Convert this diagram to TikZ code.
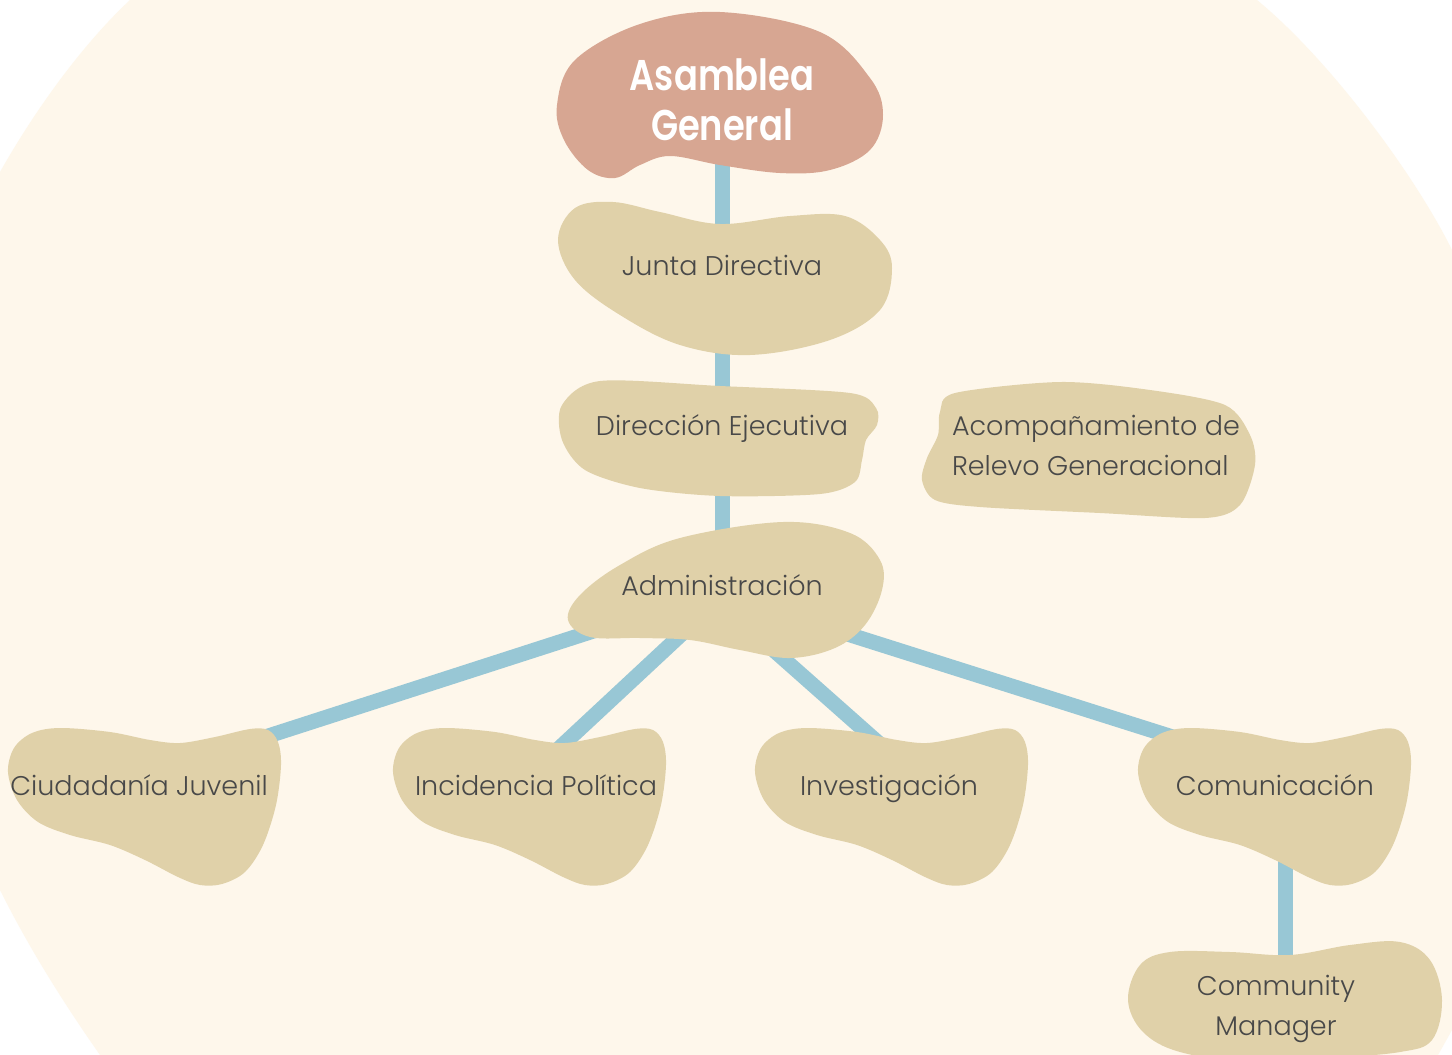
\documentclass[tikz,border=0pt]{standalone}
\usepackage{fontspec}
\setmainfont{Poppins}[UprightFont=* Light]
\newfontfamily\titlefont{Poppins}[UprightFont=* SemiBold]
\pgfdeclarelayer{bglayer}
\pgfdeclarelayer{linelayer}
\pgfdeclarelayer{blobs}
\pgfsetlayers{bglayer,linelayer,blobs,main}
\definecolor{cream}{HTML}{FEF7EB}
\definecolor{blobc}{HTML}{E0D1A9}
\definecolor{salmon}{HTML}{D7A692}
\definecolor{linkc}{HTML}{98C7D5}
\definecolor{ink}{HTML}{484848}
\newcommand\childblob{\fill[blobc] plot[smooth cycle,tension=0.55] coordinates {(60,728) (110,732) (150,740) (180,743) (215,737) (250,729) (268,730) (278,742) (281,765) (276,805) (263,845) (245,872) (222,884) (200,885) (178,877) (145,860) (110,845) (70,835) (38,822) (17,800) (8,772) (14,748) (32,733)};}
\begin{document}
\begin{tikzpicture}[x=1pt,y=-1pt,
  lbl/.style={text=ink,font=\fontsize{27}{40}\selectfont,align=center,inner sep=0pt,text height=19pt,text depth=0pt},
  conn/.style={draw=linkc,line width=15pt}]
\useasboundingbox (0,0) rectangle (1452,1055);
\begin{pgfonlayer}{bglayer}
\fill[white] (0,0) rectangle (1452,1055);
\begin{scope}
\clip (0,0) rectangle (1452,1055);
\fill[cream] (130,0) .. controls (85,42) and (38,105) .. (0,172) -- (-50,300) -- (-50,800) -- (0,890) .. controls (30,950) and (65,1005) .. (100,1055) -- (100,1100) -- (1438,1100) -- (1438,1055) -- (1452,1030) -- (1500,1030) -- (1500,250) -- (1452,250) .. controls (1415,175) and (1330,60) .. (1257,0) -- (1257,-50) -- (130,-50) -- cycle;
\end{scope}
\end{pgfonlayer}

% texts
\node[text=white,font=\titlefont\fontsize{43}{50}\selectfont,align=center,inner sep=0pt] (asamblea) at (722,100) {\scalebox{0.82}[1]{Asamblea}\\\scalebox{0.82}[1]{General}};
\node[lbl] (junta) at (722,266) {Junta Directiva};
\node[lbl] (direccion) at (722,426) {Dirección Ejecutiva};
\node[lbl,align=left] (relevo) at (1096,466) {Acompañamiento de\\Relevo Generacional};
\node[lbl] (admin) at (722,586) {Administración};
\node[lbl] (ciud) at (139,786) {Ciudadanía Juvenil};
\node[lbl] (incid) at (536,786) {Incidencia Política};
\node[lbl] (invest) at (889,786) {Investigación};
\node[lbl] (comu) at (1275,786) {Comunicación};
\node[lbl] (cm) at (1276,1026) {Community\\Manager};

% connector end points inside blobs
\coordinate (a1) at (640,616);
\coordinate (c1) at (200,758);
\coordinate (a2) at (700,617);
\coordinate (c2) at (540,766);
\coordinate (a3) at (760,638);
\coordinate (c3) at (900,762);
\coordinate (a4) at (800,619);
\coordinate (c4) at (1220,752);
\coordinate (m1) at (1285,840);
\coordinate (m2) at (1285,990);

\begin{pgfonlayer}{linelayer}
\draw[conn] (asamblea) -- (junta);
\draw[conn] (junta) -- (direccion);
\draw[conn] (direccion) -- (admin);
\draw[conn] (a1) -- (c1);
\draw[conn] (a2) -- (c2);
\draw[conn] (a3) -- (c3);
\draw[conn] (a4) -- (c4);
\draw[conn] (m1) -- (m2);
\end{pgfonlayer}

\begin{pgfonlayer}{blobs}
% Asamblea General
\fill[salmon] plot[smooth cycle,tension=0.6] coordinates {(720,12) (820,32) (870,78) (883,115) (870,150) (830,170) (780,173) (720,165) (670,156) (640,165) (615,178) (588,170) (564,140) (557,105) (575,60) (640,24)};
% Junta Directiva
\fill[blobc] plot[smooth cycle,tension=0.6] coordinates {(613,202) (660,212) (720,224) (790,216) (845,216) (880,240) (892,268) (880,310) (830,340) (750,355) (680,345) (620,315) (575,280) (558,240) (575,208)};
% Direccion Ejecutiva
\fill[blobc] plot[smooth cycle,tension=0.5] coordinates {(600,381) (720,386) (850,393) (876,408) (877,425) (866,440) (862,460) (855,482) (820,494) (720,496) (640,488) (585,470) (562,440) (562,405)};
% Acompanamiento
\fill[blobc] plot[smooth cycle,tension=0.5] coordinates {(1060,382) (1150,390) (1225,405) (1250,435) (1255,465) (1240,505) (1205,518) (1100,513) (980,507) (935,500) (922,480) (927,458) (938,435) (940,412) (955,393)};
% Administracion
\fill[blobc] plot[smooth cycle,tension=0.6] coordinates {(783,522) (850,533) (880,560) (882,590) (865,625) (835,648) (790,658) (740,650) (690,640) (640,638) (590,637) (568,620) (580,595) (620,565) (680,538)};
% children
\childblob
\begin{scope}[shift={(385,0)}]\childblob\end{scope}
\begin{scope}[shift={(747,0)}]\childblob\end{scope}
\begin{scope}[shift={(1130,0)}]\childblob\end{scope}
% Community Manager
\fill[blobc] plot[smooth cycle,tension=0.6] coordinates {(1128,1000) (1140,965) (1170,952) (1230,952) (1290,955) (1350,945) (1400,942) (1430,960) (1442,1000) (1432,1040) (1400,1052) (1330,1058) (1250,1062) (1180,1052) (1143,1032)};
\end{pgfonlayer}
\end{tikzpicture}
\end{document}
